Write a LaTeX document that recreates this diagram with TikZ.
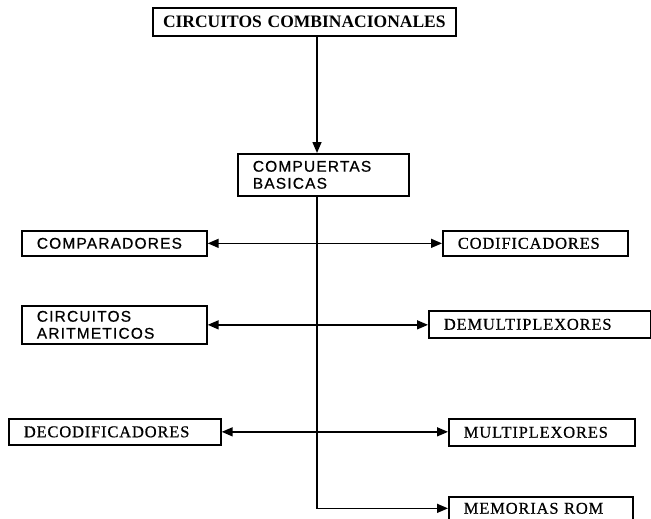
\documentclass[tikz,border=0pt]{standalone}
\usepackage{fontspec}
\setmainfont{Liberation Serif}
\newfontfamily\labsans[LetterSpace=7.5,FakeBold=0.6]{Liberation Sans}
\newfontfamily\labserif[LetterSpace=5,FakeBold=0.6]{Liberation Serif}
\usetikzlibrary{arrows.meta}
\begin{document}
\begin{tikzpicture}[x=1pt,y=-1pt,
  box/.style={draw,line width=1.7pt,inner xsep=15pt,inner ysep=0pt,align=left,anchor=north west},
  sanslab/.style={font=\labsans\fontsize{15.5}{17}\selectfont},
  seriflab/.style={font=\labserif\fontsize{16.5}{17}\selectfont},
  conn/.style={line width=1.5pt,-{Triangle[length=11pt,width=9pt]}},
  conn2/.style={line width=1.5pt,{Triangle[length=11pt,width=9pt]}-{Triangle[length=11pt,width=9pt]}}]
\useasboundingbox (0,0) rectangle (651,519);
\fill[white] (0,0) rectangle (651,519);
\coordinate (spine) at (317,0);
\node[box,align=center,inner xsep=0pt,text width=303pt,minimum height=28pt,
  font=\bfseries\fontsize{17.5}{20}\selectfont] (title) at (152,7) {CIRCUITOS COMBINACIONALES};
\node[box,sanslab,text width=141pt,minimum height=42pt] (basic) at (237,153) {COMPUERTAS\\BASICAS};
\node[box,sanslab,text width=155pt,minimum height=25pt] (compar) at (21,230) {COMPARADORES};
\node[box,seriflab,text width=155pt,minimum height=25pt] (codif) at (442,230) {CODIFICADORES};
\node[box,sanslab,text width=155pt,minimum height=38pt] (arit) at (21,305) {CIRCUITOS\\ARITMETICOS};
\node[box,seriflab,text width=192pt,minimum height=27pt] (demux) at (428,310) {DEMULTIPLEXORES};
\node[box,seriflab,text width=182pt,minimum height=26pt] (decod) at (8,418) {DECODIFICADORES};
\node[box,seriflab,text width=156pt,minimum height=27pt] (mux) at (448,418) {MULTIPLEXORES};
\node[box,seriflab,text width=154pt,minimum height=23pt] (rom) at (448,496) {MEMORIAS ROM};
\draw[conn] (title.south -| spine) -- (basic.north -| spine);
\draw[conn] (basic.south -| spine) |- (rom.west);
\draw[conn2] (compar.east) -- (codif.west);
\draw[conn2] (arit.east) -- (arit.east -| demux.west);
\draw[conn2] (decod.east) -- (decod.east -| mux.west);
\end{tikzpicture}
\end{document}
